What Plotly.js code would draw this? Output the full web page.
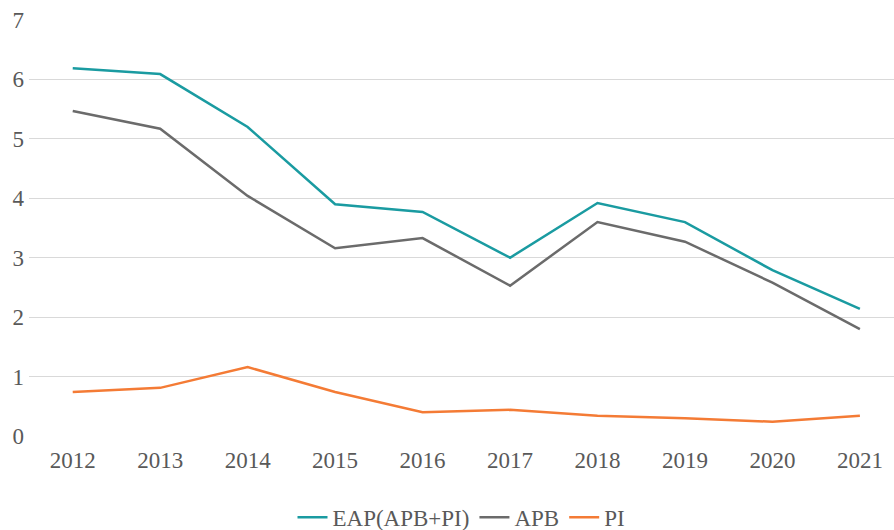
<!DOCTYPE html>
<html>
<head>
<meta charset="utf-8">
<script src="https://cdn.plot.ly/plotly-3.0.1.min.js"></script>
<style>html,body{margin:0;padding:0;background:#fff;}#chart{width:894px;height:530px;}</style>
</head>
<body>
<div id="chart"></div>
<script>
const years = ["2012","2013","2014","2015","2016","2017","2018","2019","2020","2021"];
const eap = [6.19, 6.09, 5.20, 3.90, 3.77, 3.00, 3.92, 3.60, 2.79, 2.14];
const apb = [5.47, 5.17, 4.04, 3.16, 3.33, 2.53, 3.60, 3.27, 2.58, 1.80];
const pi  = [0.74, 0.81, 1.16, 0.74, 0.40, 0.44, 0.34, 0.30, 0.24, 0.34];
const yTicks = [0,1,2,3,4,5,6,7];

const font = {family: "Times New Roman", size: 23, color: "#595959"};
const traces = [
  {x: years, y: eap, name: "EAP(APB+PI)", type: "scatter", mode: "lines", line: {color: "#1a9ba1", width: 2.5}},
  {x: years, y: apb, name: "APB", type: "scatter", mode: "lines", line: {color: "#6b6b6b", width: 2.5}},
  {x: years, y: pi,  name: "PI",  type: "scatter", mode: "lines", line: {color: "#f47b35", width: 2.5}}
];
const layout = {
  width: 894, height: 530,
  margin: {l: 29, r: 0, t: 20, b: 94},
  paper_bgcolor: "#ffffff", plot_bgcolor: "#ffffff",
  font: font,
  showlegend: true,
  legend: {orientation: "h", x: 0.5, xanchor: "center", yref: "container", y: 0.024, yanchor: "middle", font: font, traceorder: "normal"},
  xaxis: {type: "category", range: [-0.5, 9.39], showgrid: false, zeroline: false, showline: false, ticks: "", tickfont: font, ticklabelstandoff: 8, fixedrange: true},
  yaxis: {range: [0, 7], tickvals: yTicks, showgrid: true, gridcolor: "#d9d9d9", gridwidth: 1, zeroline: false, showline: false, ticks: "", tickfont: font, ticklabelstandoff: 4, fixedrange: true}
};
Plotly.newPlot("chart", traces, layout, {displayModeBar: false, staticPlot: true});
</script>
</body>
</html>
